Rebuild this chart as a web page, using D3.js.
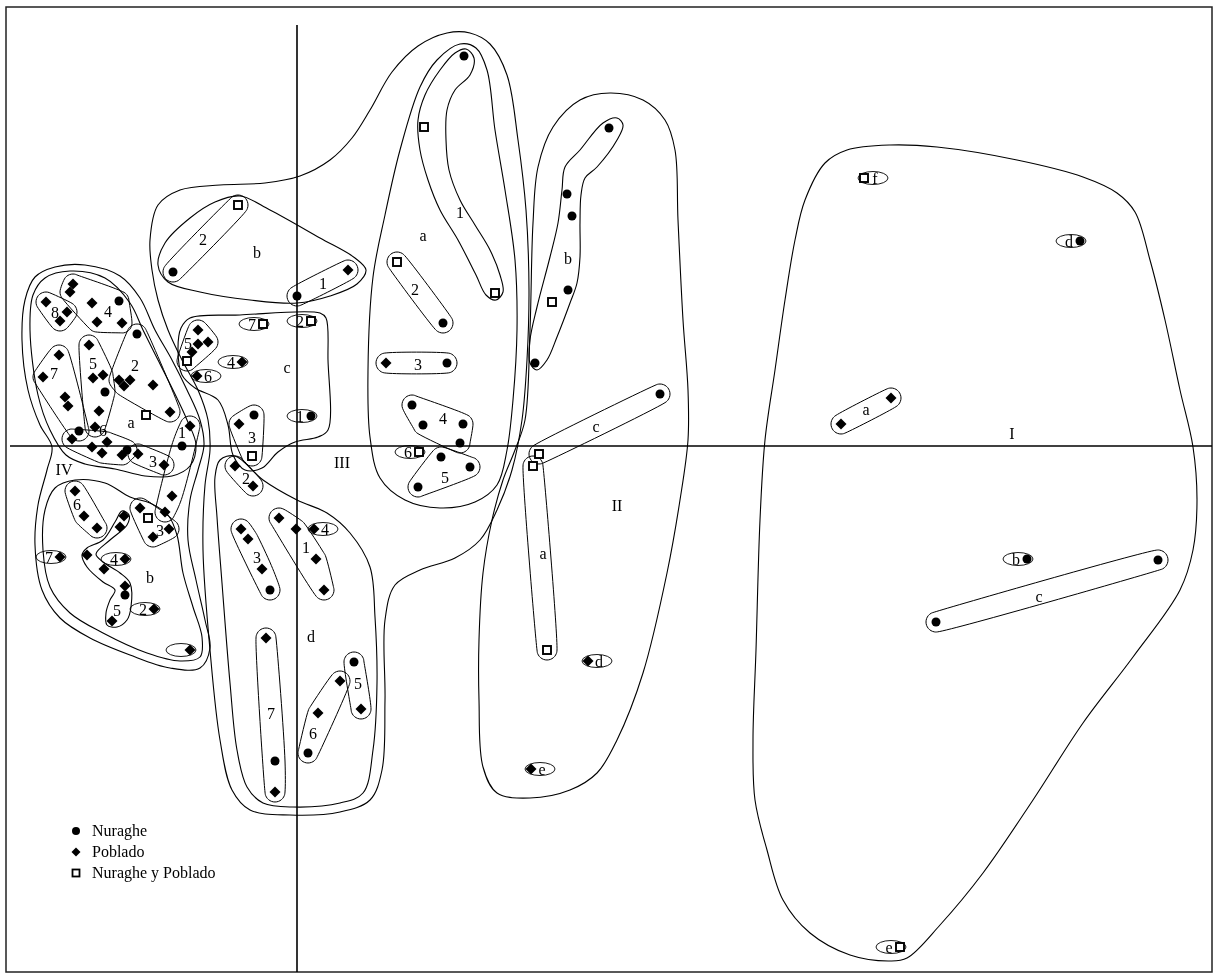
<!DOCTYPE html>
<html>
<head>
<meta charset="utf-8">
<script src="https://cdn.jsdelivr.net/npm/d3@7"></script>
<style>
  body { margin: 0; background: #fff; }
  svg { will-change: transform; }
  text { font-family: "Liberation Serif", "Times New Roman", serif; fill: #000; }
</style>
</head>
<body>
<div id="chart"></div>
<script>
// factor scores (axis 1, axis 2)
var nuraghe = [
  [-1.78, 1.45], [-2.18, 0.15], [-1.92, 0.54], [-1.60, 1.12], [-1.15, 0.00], [-1.70, -0.04],
  [-1.72, -1.49],
  [-1.24, 1.74], [0.00, 1.50],
  [0.14, 0.30], [-0.43, 0.31],
  [-0.27, -1.44], [-0.22, -3.15], [0.11, -3.07], [0.57, -2.16],
  [1.67, 3.90], [1.46, 1.23], [1.50, 0.83], [1.15, 0.41], [1.26, 0.21], [1.66, 0.22], [1.63, 0.03],
  [1.44, -0.11], [1.73, -0.21], [1.21, -0.41],
  [3.12, 3.18], [2.70, 2.52], [2.75, 2.30], [2.71, 1.56], [2.38, 0.83], [3.63, 0.52],
  [7.83, 2.05], [7.30, -1.13], [8.61, -1.14], [6.39, -1.76]
];

var poblado = [
  [-2.51, 1.44], [-2.30, 1.34], [-2.37, 1.25], [-2.24, 1.62], [-2.27, 1.54], [-2.05, 1.43],
  [-2.00, 1.24], [-1.75, 1.23], [-2.38, 0.91], [-2.54, 0.69], [-2.32, 0.49], [-2.29, 0.40],
  [-2.08, 1.01], [-2.04, 0.68], [-1.94, 0.71], [-1.98, 0.35], [-2.02, 0.19],
  [-1.78, 0.66], [-1.67, 0.66], [-1.73, 0.60], [-1.44, 0.61], [-1.27, 0.34], [-1.07, 0.20],
  [-2.25, 0.07], [-2.05, -0.01], [-1.95, -0.07], [-1.90, 0.04], [-1.75, -0.09],
  [-1.59, -0.08], [-1.33, -0.19],
  [-1.25, -0.50], [-1.32, -0.66], [-2.22, -0.45], [-2.13, -0.70], [-2.00, -0.82],
  [-1.73, -0.70], [-1.77, -0.81], [-2.10, -1.09], [-1.93, -1.23], [-1.72, -1.40], [-1.85, -1.75],
  [-2.37, -1.11], [-1.72, -1.13], [-1.43, -1.63], [-1.07, -2.04],
  [-1.57, -0.62], [-1.28, -0.83], [-1.44, -0.91],
  [0.51, 1.76],
  [-0.99, 1.16], [-0.99, 1.02], [-0.89, 1.04], [-1.05, 0.94], [-0.55, 0.84], [-1.00, 0.70], [-0.58, 0.22],
  [-0.62, -0.20], [-0.44, -0.40], [-0.18, -0.72], [-0.01, -0.83], [0.19, -1.13], [0.27, -1.44],
  [0.17, -0.83], [-0.56, -0.83], [-0.49, -0.93], [-0.35, -1.23], [-0.31, -1.92], [-0.22, -3.46],
  [0.43, -2.35], [0.21, -2.67], [0.64, -2.63],
  [0.89, 0.83],
  [2.91, -2.15], [2.34, -3.23],
  [5.94, 0.48], [5.44, 0.22]
];

var ambos = [
  [-1.51, 0.31], [-1.49, -0.72],
  [-0.59, 2.41], [-0.34, 1.22], [0.14, 1.25], [-1.10, 0.85], [-0.45, -0.10],
  [1.27, 3.19], [1.00, 1.84], [1.98, 1.53], [1.22, -0.06],
  [2.55, 1.44], [2.42, -0.08], [2.36, -0.20], [2.50, -2.04],
  [5.67, 2.68], [6.03, -5.01]
];

// small groups: members of each group (outline is drawn round them)
var smallGroups = [
  [[-2.51, 1.44], [-2.30, 1.34], [-2.37, 1.25]],
  [[-2.24, 1.62], [-2.27, 1.54], [-2.05, 1.43], [-1.78, 1.45], [-2.00, 1.24], [-1.75, 1.23]],
  [[-2.38, 0.91], [-2.54, 0.69], [-2.32, 0.49], [-2.29, 0.40], [-2.18, 0.15]],
  [[-2.08, 1.01], [-2.04, 0.68], [-1.94, 0.71], [-1.92, 0.54], [-1.98, 0.35], [-2.02, 0.19]],
  [[-2.25, 0.07], [-2.05, -0.01], [-1.95, -0.07], [-1.90, 0.04], [-1.75, -0.09], [-1.70, -0.04]],
  [[-1.60, 1.12], [-1.78, 0.66], [-1.67, 0.66], [-1.73, 0.60], [-1.44, 0.61], [-1.27, 0.34]],
  [[-1.07, 0.20], [-1.15, 0.00], [-1.25, -0.50], [-1.32, -0.66]],
  [[-1.59, -0.08], [-1.33, -0.19]],
  [[-2.22, -0.45], [-2.13, -0.70], [-2.00, -0.82]],
  [[-1.57, -0.62], [-1.49, -0.72], [-1.28, -0.83], [-1.44, -0.91]],
  [[-0.59, 2.41], [-1.24, 1.74]],
  [[0.00, 1.50], [0.51, 1.76]],
  [[-0.99, 1.16], [-0.99, 1.02], [-0.89, 1.04], [-1.05, 0.94], [-1.10, 0.85]],
  [[-0.43, 0.31], [-0.58, 0.22], [-0.45, -0.10]],
  [[-0.62, -0.20], [-0.44, -0.40]],
  [[-0.18, -0.72], [-0.01, -0.83], [0.19, -1.13], [0.27, -1.44]],
  [[-0.56, -0.83], [-0.49, -0.93], [-0.35, -1.23], [-0.27, -1.44]],
  [[-0.31, -1.92], [-0.22, -3.15], [-0.22, -3.46]],
  [[0.43, -2.35], [0.21, -2.67], [0.11, -3.07]],
  [[0.57, -2.16], [0.64, -2.63]],
  [[1.00, 1.84], [1.46, 1.23]],
  [[0.89, 0.83], [1.50, 0.83]],
  [[1.15, 0.41], [1.26, 0.21], [1.66, 0.22], [1.63, 0.03]],
  [[1.44, -0.11], [1.73, -0.21], [1.21, -0.41]],
  [[3.63, 0.52], [2.42, -0.08]],
  [[2.36, -0.20], [2.50, -2.04]],
  [[5.94, 0.48], [5.44, 0.22]],
  [[8.61, -1.14], [6.39, -1.76]]
];

// single sites with their own label: x, y, label, side of label (-1 left, 1 right)
var singles = [
  [-2.37, -1.11, "7", -1], [-1.72, -1.13, "4", -1], [-1.43, -1.63, "2", -1], [-1.07, -2.04, "", -1],
  [-0.34, 1.22, "7", -1], [0.14, 1.25, "2", -1], [-0.55, 0.84, "4", -1], [-1.00, 0.70, "6", 1],
  [0.14, 0.30, "1", -1], [0.17, -0.83, "4", 1], [1.22, -0.06, "6", -1],
  [2.91, -2.15, "d", 1], [2.34, -3.23, "e", 1],
  [5.67, 2.68, "f", 1], [7.83, 2.05, "d", -1], [7.30, -1.13, "b", -1], [6.03, -5.01, "e", -1]
];

// hand drawn cluster boundaries
var outlineI = [
  [5.50, 2.96], [5.93, 3.01], [6.40, 2.99], [7.20, 2.86], [7.86, 2.69], [8.20, 2.53], [8.38, 2.34],
  [8.53, 1.86], [8.68, 1.26], [8.83, 0.56], [8.96, -0.01], [9.00, -0.54], [8.96, -1.04], [8.83, -1.44],
  [8.36, -2.11], [7.86, -2.77], [7.36, -3.54], [6.86, -4.27], [6.43, -4.79], [6.10, -5.12], [5.93, -5.15],
  [5.53, -5.09], [5.13, -4.87], [4.86, -4.54], [4.70, -4.04], [4.58, -3.54], [4.56, -2.94], [4.59, -2.04],
  [4.63, -0.74], [4.68, 0.06], [4.78, 0.76], [4.88, 1.46], [4.98, 2.06], [5.08, 2.46], [5.28, 2.83]
];
var outlineII = [
  [2.83, 3.46], [3.13, 3.53], [3.46, 3.46], [3.68, 3.26], [3.78, 2.96], [3.81, 2.26], [3.86, 1.26],
  [3.91, 0.56], [3.91, 0.06], [3.83, -0.54], [3.70, -1.27], [3.46, -2.27], [3.20, -2.94], [3.00, -3.27],
  [2.73, -3.44], [2.33, -3.52], [2.00, -3.47], [1.86, -3.21], [1.82, -2.54], [1.82, -1.94], [1.86, -1.27],
  [1.95, -0.74], [2.06, -0.34], [2.18, -0.04], [2.28, 0.26], [2.33, 1.16], [2.36, 2.23], [2.41, 2.79], [2.56, 3.19]
];
var outlineIIb = [
  [3.20, 3.28], [3.26, 3.21], [3.20, 3.06], [3.00, 2.79], [2.88, 2.68], [2.84, 2.51], [2.83, 2.23],
  [2.83, 1.89], [2.80, 1.63], [2.73, 1.43], [2.60, 1.09], [2.50, 0.86], [2.40, 0.76], [2.33, 0.83],
  [2.33, 1.06], [2.40, 1.39], [2.53, 1.89], [2.61, 2.23], [2.65, 2.56], [2.68, 2.79], [2.83, 2.96], [3.06, 3.23]
];
var outlineA1 = [
  [1.69, 3.97], [1.77, 3.88], [1.73, 3.71], [1.58, 3.56], [1.50, 3.36], [1.49, 3.06], [1.52, 2.76],
  [1.63, 2.46], [1.78, 2.21], [1.93, 1.96], [2.03, 1.71], [2.06, 1.54], [1.99, 1.46], [1.89, 1.51],
  [1.79, 1.71], [1.61, 2.06], [1.43, 2.36], [1.31, 2.66], [1.23, 2.96], [1.21, 3.26], [1.28, 3.51],
  [1.43, 3.76], [1.58, 3.93]
];
var outlineA = [
  [0.76, 1.69], [0.88, 2.31], [1.03, 2.96], [1.23, 3.59], [1.40, 3.86], [1.63, 4.02], [1.79, 3.98],
  [1.90, 3.76], [1.98, 3.16], [2.08, 2.56], [2.18, 1.86], [2.20, 1.16], [2.16, 0.46], [2.10, -0.04],
  [2.00, -0.39], [1.78, -0.56], [1.43, -0.62], [1.08, -0.54], [0.83, -0.32], [0.73, 0.09], [0.71, 0.76]
];
var outlineIII = [
  [-1.47, 2.06], [-1.39, 2.41], [-1.17, 2.56], [-0.77, 2.61], [-0.32, 2.63], [0.03, 2.70], [0.33, 2.86],
  [0.55, 3.08], [0.73, 3.36], [0.95, 3.74], [1.21, 4.00], [1.50, 4.13], [1.73, 4.13], [1.93, 4.02],
  [2.10, 3.71], [2.21, 3.06], [2.29, 2.36], [2.32, 1.56], [2.30, 0.86], [2.25, 0.26], [2.15, -0.24],
  [2.00, -0.64], [1.83, -0.94], [1.58, -1.12], [1.23, -1.24], [0.98, -1.39], [0.88, -1.74], [0.88, -2.54],
  [0.85, -3.24], [0.73, -3.54], [0.43, -3.66], [-0.07, -3.69], [-0.47, -3.64], [-0.65, -3.44],
  [-0.77, -2.94], [-0.87, -2.04], [-0.94, -1.04], [-0.92, -0.39], [-0.87, -0.04], [-0.89, 0.26],
  [-0.99, 0.56], [-1.15, 0.86], [-1.29, 1.16], [-1.39, 1.46], [-1.45, 1.76]
];
var outlineB = [
  [-0.57, 2.50], [-0.27, 2.36], [0.23, 2.08], [0.58, 1.88], [0.69, 1.76], [0.60, 1.62], [0.33, 1.50],
  [0.00, 1.43], [-0.47, 1.46], [-0.97, 1.54], [-1.29, 1.64], [-1.39, 1.81], [-1.32, 2.03], [-1.07, 2.28], [-0.82, 2.44]
];
var outlineC = [
  [-1.07, 1.28], [-0.57, 1.31], [0.23, 1.33], [0.29, 1.28], [0.31, 0.86], [0.31, 0.16], [0.21, 0.09],
  [-0.02, 0.04], [-0.19, -0.06], [-0.35, -0.22], [-0.52, -0.24], [-0.64, -0.09], [-0.69, 0.21],
  [-0.79, 0.46], [-1.02, 0.58], [-1.15, 0.71], [-1.19, 0.96], [-1.16, 1.18]
];
var outlineD = [
  [-0.77, -0.14], [-0.62, -0.10], [-0.34, -0.34], [0.00, -0.54], [0.30, -0.67], [0.53, -0.87],
  [0.73, -1.21], [0.78, -1.71], [0.80, -2.37], [0.76, -3.04], [0.66, -3.47], [0.43, -3.57], [-0.04, -3.61],
  [-0.34, -3.57], [-0.50, -3.41], [-0.60, -3.04], [-0.67, -2.37], [-0.75, -1.37], [-0.80, -0.71], [-0.82, -0.31]
];
var outlineIV = [
  [-2.72, 1.46], [-2.62, 1.69], [-2.42, 1.79], [-2.12, 1.81], [-1.77, 1.70], [-1.57, 1.48], [-1.42, 1.16],
  [-1.25, 0.86], [-1.10, 0.56], [-0.97, 0.26], [-0.93, 0.01], [-0.99, -0.24], [-1.07, -0.54], [-1.09, -0.94],
  [-1.01, -1.34], [-0.92, -1.74], [-0.87, -2.02], [-0.97, -2.22], [-1.27, -2.22], [-1.67, -2.09],
  [-2.07, -1.92], [-2.37, -1.72], [-2.55, -1.44], [-2.62, -0.99], [-2.59, -0.59], [-2.50, -0.24],
  [-2.45, -0.01], [-2.57, 0.21], [-2.69, 0.56], [-2.75, 1.06]
];
var outlineIVa = [
  [-2.67, 1.16], [-2.64, 1.51], [-2.52, 1.68], [-2.27, 1.75], [-1.92, 1.68], [-1.67, 1.43], [-1.54, 1.16],
  [-1.39, 0.86], [-1.24, 0.56], [-1.10, 0.26], [-1.01, 0.01], [-1.07, -0.20], [-1.25, -0.30], [-1.52, -0.30],
  [-1.82, -0.23], [-2.12, -0.18], [-2.31, -0.09], [-2.47, 0.16], [-2.59, 0.51]
];
var outlineIVb = [
  [-2.52, -0.64], [-2.42, -0.42], [-2.22, -0.34], [-1.92, -0.37], [-1.67, -0.51], [-1.47, -0.57],
  [-1.29, -0.69], [-1.20, -0.89], [-1.14, -1.27], [-1.04, -1.61], [-0.95, -1.91], [-0.97, -2.11],
  [-1.17, -2.15], [-1.50, -2.07], [-1.94, -1.87], [-2.27, -1.67], [-2.47, -1.41], [-2.54, -1.04]
];
var outlineIVb5 = [
  [-1.75, -0.65], [-1.68, -0.69], [-1.70, -0.79], [-1.87, -0.94], [-2.01, -1.08], [-1.94, -1.16],
  [-1.77, -1.27], [-1.67, -1.37], [-1.66, -1.61], [-1.70, -1.74], [-1.80, -1.81], [-1.90, -1.79],
  [-1.91, -1.67], [-1.87, -1.54], [-1.82, -1.44], [-1.94, -1.36], [-2.10, -1.21], [-2.15, -1.09],
  [-2.10, -1.02], [-1.94, -0.94], [-1.82, -0.76]
];

// labels of groups: text, x, y
var groupLabels = [
  ["8", -2.42, 1.34], ["4", -1.89, 1.35], ["7", -2.43, 0.73], ["5", -2.04, 0.83], ["6", -1.94, 0.16],
  ["2", -1.62, 0.81], ["a", -1.66, 0.24], ["1", -1.15, 0.14], ["3", -1.44, -0.15],
  ["6", -2.20, -0.58], ["5", -1.80, -1.64], ["3", -1.37, -0.84], ["b", -1.47, -1.31],
  ["2", -0.94, 2.07], ["1", 0.26, 1.63], ["b", -0.40, 1.94],
  ["5", -1.09, 1.03], ["3", -0.45, 0.09], ["c", -0.10, 0.79],
  ["2", -0.51, -0.32], ["1", 0.09, -1.01], ["3", -0.40, -1.11], ["7", -0.26, -2.67],
  ["6", 0.16, -2.87], ["5", 0.61, -2.37], ["d", 0.14, -1.90],
  ["1", 1.63, 2.34], ["a", 1.26, 2.11], ["2", 1.18, 1.57], ["3", 1.21, 0.82], ["4", 1.46, 0.28], ["5", 1.48, -0.31],
  ["b", 2.71, 1.88], ["c", 2.99, 0.20], ["a", 2.46, -1.07],
  ["a", 5.69, 0.37], ["c", 7.42, -1.50]
];
var clusterLabels = [["IV", -2.33, -0.23], ["III", 0.45, -0.16], ["II", 3.20, -0.59], ["I", 7.15, 0.13]];
var legendItems = ["Nuraghe", "Poblado", "Nuraghe y Poblado"];

var svgWidth = 1216;
var svgHeight = 975;
var PAD = 10;

var svg = d3.select("#chart")
  .append("svg")
  .attr("width", svgWidth)
  .attr("height", svgHeight);

var x = d3.scaleLinear().domain([-2.91, 9.15]).range([6, 1212]);
var y = d3.scaleLinear().domain([4.39, -5.26]).range([7, 972]);

// white back so text is drawn on an opaque layer
svg.append("rect").attr("width", svgWidth).attr("height", svgHeight).attr("fill", "#fff");

// frame
svg.append("rect")
  .attr("x", x.range()[0]).attr("y", y.range()[0])
  .attr("width", x.range()[1] - x.range()[0])
  .attr("height", y.range()[1] - y.range()[0])
  .attr("fill", "none").attr("stroke", "#222").attr("stroke-width", 1.5);

// axes through the origin
svg.append("line")
  .attr("x1", x.range()[0] + 4).attr("x2", x.range()[1])
  .attr("y1", y(0)).attr("y2", y(0))
  .attr("stroke", "#000").attr("stroke-width", 1.6);
svg.append("line")
  .attr("x1", x(0)).attr("x2", x(0))
  .attr("y1", y(4.21)).attr("y2", y.range()[1])
  .attr("stroke", "#000").attr("stroke-width", 1.6);

var smooth = d3.line()
  .x(d => d[0]).y(d => d[1])
  .curve(d3.curveCatmullRomClosed.alpha(0.5));

// big outlines
var bigOutlines = [outlineI, outlineII, outlineIIb, outlineA1, outlineA, outlineIII,
  outlineB, outlineC, outlineD, outlineIV, outlineIVa, outlineIVb, outlineIVb5];

svg.append("g").selectAll("path")
  .data(bigOutlines)
  .enter()
  .append("path")
  .attr("d", d => smooth(d.map(p => [x(p[0]), y(p[1])])))
  .attr("fill", "none")
  .attr("stroke", "#000")
  .attr("stroke-width", 1.1);

// padded hull round the members of each small group
function padHull(pts) {
  var ring = [];
  pts.forEach(function (p) {
    var cx = x(p[0]), cy = y(p[1]);
    for (var k = 0; k < 18; k++) {
      var t = k / 18 * 2 * Math.PI;
      ring.push([cx + PAD * Math.cos(t), cy + PAD * Math.sin(t)]);
    }
  });
  return d3.polygonHull(ring);
}

svg.append("g").selectAll("path")
  .data(smallGroups)
  .enter()
  .append("path")
  .attr("d", d => smooth(padHull(d)))
  .attr("fill", "none")
  .attr("stroke", "#000")
  .attr("stroke-width", 1);

// single labelled sites
var sg = svg.append("g");
sg.selectAll("ellipse")
  .data(singles)
  .enter()
  .append("ellipse")
  .attr("cx", d => x(d[0]) + d[3] * 9)
  .attr("cy", d => y(d[1]))
  .attr("rx", 15)
  .attr("ry", 6.5)
  .attr("fill", "none")
  .attr("stroke", "#000")
  .attr("stroke-width", 0.9);
sg.selectAll("text")
  .data(singles)
  .enter()
  .append("text")
  .attr("x", d => x(d[0]) + d[3] * 11)
  .attr("y", d => y(d[1]) + 5.5)
  .style("font-size", "16px")
  .style("text-anchor", "middle")
  .text(d => d[2]);

// markers
var diamond = function (cx, cy, r) {
  return "M" + cx + "," + (cy - r) + "L" + (cx + r) + "," + cy + "L" + cx + "," + (cy + r) + "L" + (cx - r) + "," + cy + "Z";
};

svg.append("g").selectAll("circle")
  .data(nuraghe)
  .enter()
  .append("circle")
  .attr("cx", d => x(d[0]))
  .attr("cy", d => y(d[1]))
  .attr("r", 4.5)
  .attr("fill", "#000");

svg.append("g").selectAll("path")
  .data(poblado)
  .enter()
  .append("path")
  .attr("d", d => diamond(x(d[0]), y(d[1]), 5.5))
  .attr("fill", "#000");

svg.append("g").selectAll("rect")
  .data(ambos)
  .enter()
  .append("rect")
  .attr("x", d => x(d[0]) - 4)
  .attr("y", d => y(d[1]) - 4)
  .attr("width", 8)
  .attr("height", 8)
  .attr("fill", "#fff")
  .attr("stroke", "#000")
  .attr("stroke-width", 1.9);

// labels
svg.append("g").selectAll("text")
  .data(groupLabels)
  .enter()
  .append("text")
  .attr("x", d => x(d[1]))
  .attr("y", d => y(d[2]) + 5.5)
  .style("font-size", "16px")
  .style("text-anchor", "middle")
  .text(d => d[0]);

svg.append("g").selectAll("text")
  .data(clusterLabels)
  .enter()
  .append("text")
  .attr("x", d => x(d[1]))
  .attr("y", d => y(d[2]) + 5.5)
  .style("font-size", "16px")
  .style("text-anchor", "middle")
  .text(d => d[0]);

// legend
var legend = svg.append("g").attr("transform", "translate(76, 831)");
legend.append("circle").attr("cx", 0).attr("cy", 0).attr("r", 4).attr("fill", "#000");
legend.append("path").attr("d", diamond(0, 21, 4.5)).attr("fill", "#000");
legend.append("rect").attr("x", -3.5).attr("y", 38.5).attr("width", 7).attr("height", 7)
  .attr("fill", "#fff").attr("stroke", "#000").attr("stroke-width", 1.8);
legend.selectAll("text")
  .data(legendItems)
  .enter()
  .append("text")
  .attr("x", 16)
  .attr("y", (d, i) => i * 21 + 5)
  .style("font-size", "16px")
  .text(d => d);
</script>
</body>
</html>
